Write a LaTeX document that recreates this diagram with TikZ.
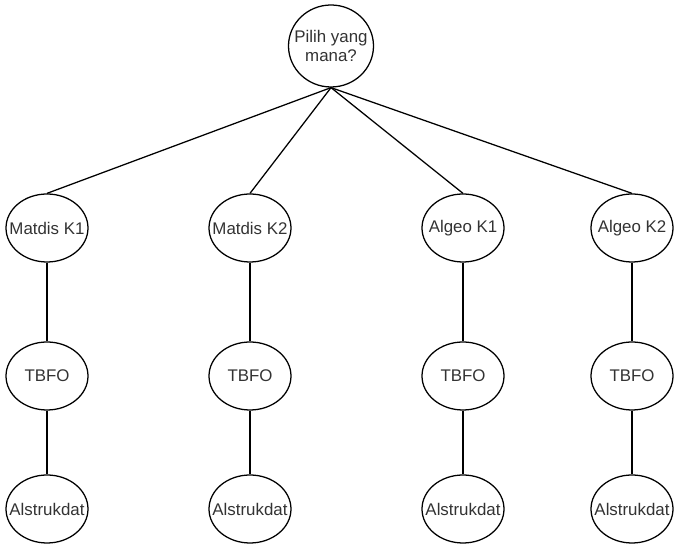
\documentclass[tikz,border=0pt]{standalone}
\usepackage{fontspec}
\setmainfont{Liberation Sans}
\usetikzlibrary{shapes.geometric}

\tikzset{
    course/.style={draw, ellipse, line width=0.9pt, minimum width=2.05cm, minimum height=1.7cm, inner xsep=-0.25cm, inner ysep=0pt, align=center, text=black!80, font=\fontsize{12}{13.5}\selectfont},
    link/.style={line width=0.9pt}
}

\begin{document}
\begin{tikzpicture}
    \useasboundingbox (0, 0) rectangle (16.85, 13.6);

    % Root
    \node (root) at (8.275, 12.45) [course, minimum width=2.125cm, minimum height=2.05cm] {Pilih yang \\ mana?};

    % Matdis K1 path
    \node (mk1) at (1.175, 7.9) [course] {Matdis K1};
    \node (mk1_tbfo) at (1.175, 4.2) [course] {TBFO};
    \node (mk1_alstr) at (1.175, 0.875) [course] {Alstrukdat};

    % Matdis K2 path
    \node (mk2) at (6.25, 7.9) [course] {Matdis K2};
    \node (mk2_tbfo) at (6.25, 4.2) [course] {TBFO};
    \node (mk2_alstr) at (6.25, 0.875) [course] {Alstrukdat};

    % Algeo K1 path
    \node (ak1) at (11.575, 7.9) [course] {Algeo K1};
    \node (ak1_tbfo) at (11.575, 4.2) [course] {TBFO};
    \node (ak1_alstr) at (11.575, 0.875) [course] {Alstrukdat};

    % Algeo K2 path
    \node (ak2) at (15.8, 7.9) [course] {Algeo K2};
    \node (ak2_tbfo) at (15.8, 4.2) [course] {TBFO};
    \node (ak2_alstr) at (15.8, 0.875) [course] {Alstrukdat};

    % Edges
    \draw[link] (root.south) -- (mk1.north);
    \draw[link] (root.south) -- (mk2.north);
    \draw[link] (root.south) -- (ak1.north);
    \draw[link] (root.south) -- (ak2.north);
    \draw[link] (mk1) -- (mk1_tbfo);
    \draw[link] (mk1_tbfo) -- (mk1_alstr);
    \draw[link] (mk2) -- (mk2_tbfo);
    \draw[link] (mk2_tbfo) -- (mk2_alstr);
    \draw[link] (ak1) -- (ak1_tbfo);
    \draw[link] (ak1_tbfo) -- (ak1_alstr);
    \draw[link] (ak2) -- (ak2_tbfo);
    \draw[link] (ak2_tbfo) -- (ak2_alstr);
\end{tikzpicture}
\end{document}
